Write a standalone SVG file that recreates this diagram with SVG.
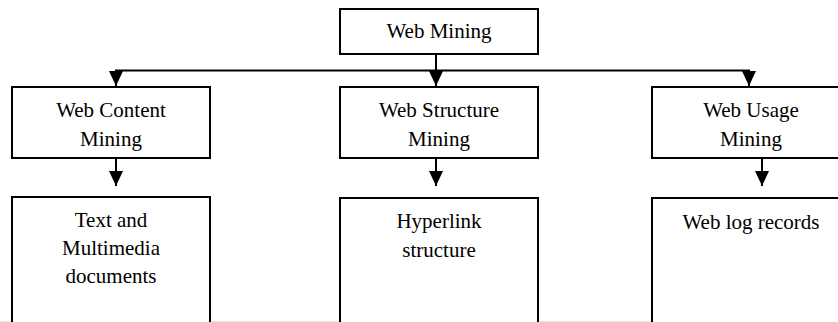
<svg xmlns="http://www.w3.org/2000/svg" width="838" height="322" viewBox="0 0 838 322">
  <style>
    .box { fill: #ffffff; stroke: #000000; stroke-width: 2; }
    .lbl { font-family: "Liberation Serif", "Times New Roman", serif; font-size: 21px; fill: #000000; text-anchor: middle; }
    .wire { fill: none; stroke: #000000; stroke-width: 2; }
    .arrow { fill: none; stroke: #000000; stroke-width: 2; marker-end: url(#head); }
  </style>
  <defs>
    <marker id="head" markerUnits="userSpaceOnUse" markerWidth="15" markerHeight="14" viewBox="0 0 15 14" refX="15" refY="7" orient="auto">
      <path d="M0,0 L15,7 L0,14 z" fill="#000000"/>
    </marker>
  </defs>

  <rect width="838" height="322" fill="#ffffff"/>
  <!-- faint page edge along the bottom -->
  <line x1="0" y1="321.5" x2="838" y2="321.5" stroke="#e4e4e4" stroke-width="1"/>

  <g id="connectors">
    <line class="wire" x1="436" y1="54" x2="436" y2="71"/>
    <line class="wire" x1="115" y1="70.5" x2="750" y2="70.5"/>
    <line class="arrow" x1="116" y1="70" x2="116" y2="86"/>
    <line class="arrow" x1="436" y1="70" x2="436" y2="86"/>
    <line class="arrow" x1="749" y1="70" x2="749" y2="86"/>
    <line class="arrow" x1="116" y1="158" x2="116" y2="186"/>
    <line class="arrow" x1="436" y1="158" x2="436" y2="186"/>
    <line class="arrow" x1="762" y1="158" x2="762" y2="186"/>
  </g>

  <g id="web-mining">
    <rect class="box" x="340" y="9" width="198" height="45"/>
    <text class="lbl" x="439" y="38">Web Mining</text>
  </g>

  <g id="web-content-mining">
    <rect class="box" x="12" y="87" width="198" height="71"/>
    <text class="lbl" x="111" y="117">Web Content</text>
    <text class="lbl" x="111" y="145.5">Mining</text>
  </g>

  <g id="web-structure-mining">
    <rect class="box" x="340" y="87" width="198" height="71"/>
    <text class="lbl" x="439" y="117">Web Structure</text>
    <text class="lbl" x="439" y="145.5">Mining</text>
  </g>

  <g id="web-usage-mining">
    <rect class="box" x="652" y="87" width="198" height="71"/>
    <text class="lbl" x="751" y="117">Web Usage</text>
    <text class="lbl" x="751" y="145.5">Mining</text>
  </g>

  <g id="text-multimedia">
    <rect class="box" x="12" y="197" width="198" height="130"/>
    <text class="lbl" x="111" y="227">Text and</text>
    <text class="lbl" x="111" y="255">Multimedia</text>
    <text class="lbl" x="111" y="283">documents</text>
  </g>

  <g id="hyperlink-structure">
    <rect class="box" x="340" y="198" width="198" height="130"/>
    <text class="lbl" x="439" y="228">Hyperlink</text>
    <text class="lbl" x="439" y="256.5">structure</text>
  </g>

  <g id="web-log-records">
    <rect class="box" x="652" y="198" width="198" height="130"/>
    <text class="lbl" x="751" y="229">Web log records</text>
  </g>
</svg>
